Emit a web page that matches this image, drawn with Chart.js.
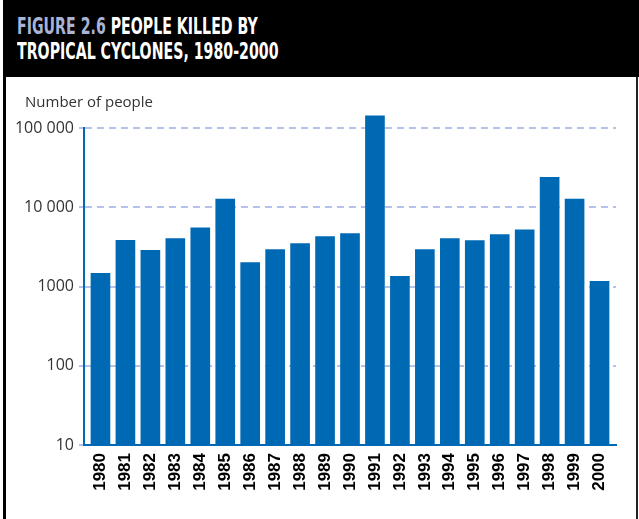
<!DOCTYPE html>
<html>
<head>
<meta charset="utf-8">
<script src="https://cdn.jsdelivr.net/npm/chart.js@4"></script>
<style>
  body { margin: 0; width: 639px; height: 519px; overflow: hidden; background: #fff; position: relative; }
  #chart { position: absolute; left: 0; top: 0; }
  #head { position: absolute; left: 3px; top: 0; width: 636px; height: 77px; background: #000; z-index: 2; }
  #title { position: absolute; left: 14px; top: 14px; color: #fff; font-family: "Liberation Sans Narrow", "DejaVu Sans Condensed", sans-serif;
    font-weight: bold; font-size: 23px; line-height: 25px; transform: scaleX(0.685); transform-origin: left top; white-space: nowrap; }
  #title span { color: #a9b3d6; }
  #bl { position: absolute; left: 3px; top: 77px; width: 3px; height: 442px; background: #000; z-index: 2; }
  #br { position: absolute; left: 636px; top: 77px; width: 2px; height: 442px; background: #222; z-index: 2; }
  #ylab { position: absolute; left: 25px; top: 91px; font-family: "Open Sans", sans-serif; font-size: 15px; color: #333; z-index: 2; }
</style>
</head>
<body>
<canvas id="chart" width="639" height="519"></canvas>
<div id="head"><div id="title"><span>FIGURE 2.6</span> PEOPLE KILLED BY<br>TROPICAL CYCLONES, 1980-2000</div></div>
<div id="bl"></div>
<div id="br"></div>
<div id="ylab">Number of people</div>
<script>
// dati
const years = [1980, 1981, 1982, 1983, 1984, 1985, 1986, 1987, 1988, 1989, 1990,
               1991, 1992, 1993, 1994, 1995, 1996, 1997, 1998, 1999, 2000];
const killed = [1466, 3820, 2870, 4020, 5510, 12700, 2010, 2930, 3480, 4250, 4640,
                142000, 1345, 2930, 4020, 3790, 4510, 5200, 23900, 12700, 1165];
const yTicks = [10, 100, 1000, 10000, 100000];
const yTickLabels = ['10', '100', '1000', '10 000', '100 000'];

const blu = '#0069b4';

var data = {
  datasets: [{
    data: years.map((y, i) => ({ x: y, y: killed[i] })),
    backgroundColor: blu,
    barThickness: 19,
    clip: false
  }]
};

const config = {
  type: 'bar',
  data: data,
  options: {
    responsive: false,
    animation: false,
    layout: { padding: { top: 128, right: 23, left: 0, bottom: 0 } },
    plugins: { legend: { display: false }, tooltip: { enabled: false } },
    scales: {
      x: {
        type: 'linear',
        offset: false,
        min: 1979.34,
        max: 2000.66,
        grid: { display: false, drawTicks: false },
        border: { display: true, color: blu, width: 2 },
        afterBuildTicks: (s) => { s.ticks = years.map(v => ({ value: v })); },
        afterFit: (s) => { s.height = 74; },
        ticks: {
          autoSkip: false,
          minRotation: 90,
          maxRotation: 90,
          padding: 8,
          color: '#000',
          font: { family: 'Liberation Sans', size: 17, weight: 'bold' },
          callback: (v) => String(v)
        }
      },
      y: {
        type: 'logarithmic',
        min: 10,
        max: 100000,
        afterBuildTicks: (s) => { s.ticks = yTicks.map(v => ({ value: v })); },
        afterFit: (s) => { s.width = 84; },
        grid: { color: '#b7c2ec', lineWidth: 2, tickLength: 5 },
        border: { display: true, color: blu, width: 2, dash: [7, 5] },
        ticks: {
          padding: 5,
          color: '#333',
          font: { family: 'Open Sans', size: 16 },
          callback: (v, i) => yTickLabels[i]
        }
      }
    }
  }
};

const chart = new Chart(document.querySelector('#chart'), config);
</script>
</body>
</html>
